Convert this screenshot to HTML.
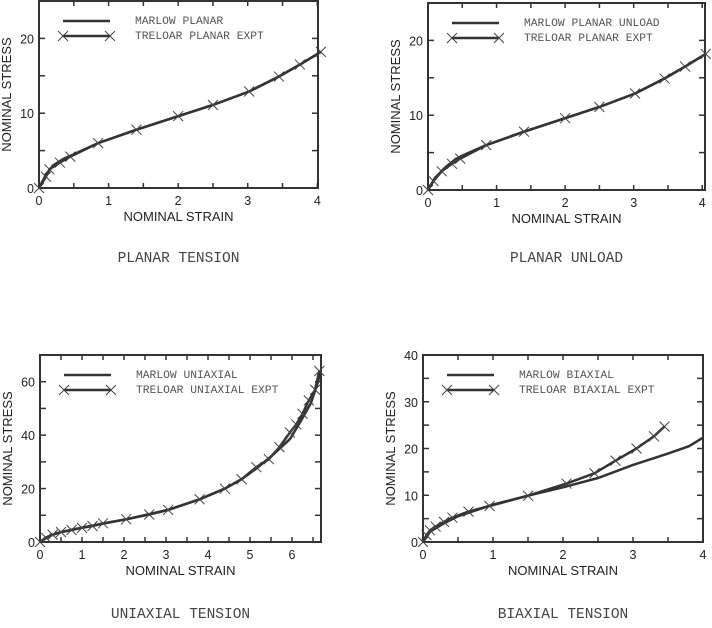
<!DOCTYPE html>
<html><head><meta charset="utf-8"><style>
body{margin:0;background:#fff;width:712px;height:628px;overflow:hidden}
svg{display:block}
.ax{font-family:"Liberation Sans",Arial,sans-serif;font-size:12.5px;fill:#222}
.al{font-family:"Liberation Sans",Arial,sans-serif;font-size:13px;fill:#222}
.lg{font-family:"Liberation Mono",monospace;font-size:11.3px;fill:#555}
.tt{font-family:"Liberation Mono",monospace;font-size:14.5px;fill:#444}
</style></head><body>
<svg id="s" width="712" height="628" xmlns="http://www.w3.org/2000/svg"></svg>
<script>
var S=document.getElementById('s'),h='';
function chart(c){
 var X=function(v){return c.l+(v-0)*(c.r-c.l)/c.xmax},Y=function(v){return c.b-v*(c.b-c.t)/c.ymax};
 h+='<rect x="'+c.l+'" y="'+c.t+'" width="'+(c.r-c.l)+'" height="'+(c.b-c.t)+'" fill="none" stroke="#333" stroke-width="2"/>';
 for(var v=0;v<=c.xmax+1e-6;v+=c.xstep/2){var x=X(v);h+='<line x1="'+x+'" y1="'+c.b+'" x2="'+x+'" y2="'+(c.b-5)+'" stroke="#333" stroke-width="1.5"/><line x1="'+x+'" y1="'+c.t+'" x2="'+x+'" y2="'+(c.t+5)+'" stroke="#333" stroke-width="1.5"/>';
  if(Math.abs(v/c.xstep-Math.round(v/c.xstep))<1e-6)h+='<text class="ax" x="'+x+'" y="'+(c.b+17)+'" text-anchor="middle">'+Math.round(v)+'</text>';}
 for(var v=0;v<=c.ymax+1e-6;v+=c.ystep/2){var y=Y(v);h+='<line x1="'+c.l+'" y1="'+y+'" x2="'+(c.l+6)+'" y2="'+y+'" stroke="#333" stroke-width="1.5"/><line x1="'+c.r+'" y1="'+y+'" x2="'+(c.r-6)+'" y2="'+y+'" stroke="#333" stroke-width="1.5"/>';
  if(Math.abs(v/c.ystep-Math.round(v/c.ystep))<1e-6)h+='<text class="ax" x="'+(c.l-5)+'" y="'+(y+5)+'" text-anchor="end">'+Math.round(v)+'</text>';}
 var cx=(c.l+c.r)/2;
 h+='<text class="al" x="'+cx+'" y="'+(c.b+33)+'" text-anchor="middle">NOMINAL STRAIN</text>';
 var cy=(c.t+c.b)/2;
 h+='<text class="al" transform="translate('+(c.l-28)+','+cy+') rotate(-90)" text-anchor="middle">NOMINAL STRESS</text>';
 h+='<text class="tt" x="'+(cx+0)+'" y="'+c.title+'" text-anchor="middle">'+c.tname+'</text>';
 function pl(p){return p.map(function(q){return X(q[0]).toFixed(1)+','+Y(q[1]).toFixed(1)}).join(' ')}
 h+='<polyline points="'+pl(c.m)+'" fill="none" stroke="#333" stroke-width="2.5"/>';
 h+='<polyline points="'+pl(c.e)+'" fill="none" stroke="#333" stroke-width="2.5"/>';
 function xm(x,y){return '<path d="M'+(x-5)+','+(y-5)+'L'+(x+5)+','+(y+5)+'M'+(x-5)+','+(y+5)+'L'+(x+5)+','+(y-5)+'" stroke="#444" stroke-width="1"/>'}
 c.e.forEach(function(q){h+=xm(X(q[0]),Y(q[1]))});
 var lx=c.l+24,ly=c.t+20;
 h+='<line x1="'+lx+'" y1="'+ly+'" x2="'+(lx+47)+'" y2="'+ly+'" stroke="#333" stroke-width="2.5"/>';
 h+='<line x1="'+lx+'" y1="'+(ly+15)+'" x2="'+(lx+47)+'" y2="'+(ly+15)+'" stroke="#333" stroke-width="2.5"/>'+xm(lx,ly+15)+xm(lx+47,ly+15);
 h+='<text class="lg" x="'+(lx+72)+'" y="'+(ly+3)+'">'+c.l1+'</text><text class="lg" x="'+(lx+72)+'" y="'+(ly+18)+'">'+c.l2+'</text>';
}
var pe=[[0,0],[0.1,1.5],[0.15,2.5],[0.3,3.4],[0.45,4.2],[0.85,6],[1.4,7.8],[2,9.6],[2.5,11.1],[3.02,12.9],[3.45,14.9],[3.75,16.5],[4.05,18.2]];
var pm=[[0,0],[0.1,1.8],[0.2,3],[0.35,3.9],[0.5,4.5],[0.85,6],[1.4,7.8],[2,9.6],[2.5,11.1],[3.02,12.9],[3.45,14.9],[3.75,16.5],[4.05,18.2]];
chart({l:39,r:318,t:1,b:188,xmax:4.01,ymax:25,xstep:1,ystep:10,m:pm,e:pe,l1:'MARLOW PLANAR',l2:'TRELOAR PLANAR EXPT',tname:'PLANAR TENSION',title:262});
var pe2=[[0,0],[0.08,1.2],[0.2,2.5],[0.35,3.5],[0.47,4.2],[0.85,6],[1.4,7.8],[2,9.6],[2.5,11.1],[3.02,12.9],[3.45,14.9],[3.75,16.5],[4.05,18.2]];
var pm2=[[0,0],[0.1,1.6],[0.25,3],[0.4,4.1],[0.5,4.6],[0.85,6],[1.4,7.8],[2,9.6],[2.5,11.1],[3.02,12.9],[3.45,14.9],[3.75,16.5],[4.05,18.2]];
chart({l:428,r:705,t:3,b:190,xmax:4.04,ymax:25,xstep:1,ystep:10,m:pm2,e:pe2,l1:'MARLOW PLANAR UNLOAD',l2:'TRELOAR PLANAR EXPT',tname:'PLANAR UNLOAD',title:262});
var ue=[[0,0],[0.15,1.5],[0.3,2.7],[0.5,3.7],[0.75,4.5],[1,5.3],[1.25,6],[1.5,7],[2.05,8.5],[2.6,10.3],[3.05,12],[3.8,16],[4.4,20],[4.8,23.5],[5.15,28],[5.45,31],[5.7,35.5],[5.95,41],[6.1,44],[6.25,48],[6.4,53],[6.55,57],[6.65,64]];
var um=[[0,0],[0.15,1.8],[0.4,3.3],[0.75,4.6],[1.5,6.9],[2.05,8.5],[3.05,12],[3.8,16],[4.4,20],[4.8,23.5],[5.15,27.5],[5.5,32],[5.95,38.5],[6.2,45],[6.45,52],[6.62,60],[6.67,64]];
chart({l:40,r:321,t:355,b:542,xmax:6.69,ymax:70,xstep:1,ystep:20,m:um,e:ue,l1:'MARLOW UNIAXIAL',l2:'TRELOAR UNIAXIAL EXPT',tname:'UNIAXIAL TENSION',title:618});
var be=[[0,0],[0.05,1.5],[0.1,2.5],[0.18,3.3],[0.3,4.3],[0.42,5.2],[0.65,6.5],[0.95,7.7],[1.5,9.9],[2.05,12.5],[2.45,14.7],[2.75,17.4],[3.05,20],[3.3,22.6],[3.45,24.7]];
var bm=[[0,0],[0.1,2.2],[0.3,4],[0.5,5.5],[1,8],[1.5,9.9],[2,11.7],[2.5,13.7],[3,16.5],[3.5,18.9],[3.8,20.5],[4,22.3]];
chart({l:423,r:703,t:355,b:542,xmax:4,ymax:40,xstep:1,ystep:10,m:bm,e:be,l1:'MARLOW BIAXIAL',l2:'TRELOAR BIAXIAL EXPT',tname:'BIAXIAL TENSION',title:618});
S.innerHTML=h;
</script>
</body></html>
